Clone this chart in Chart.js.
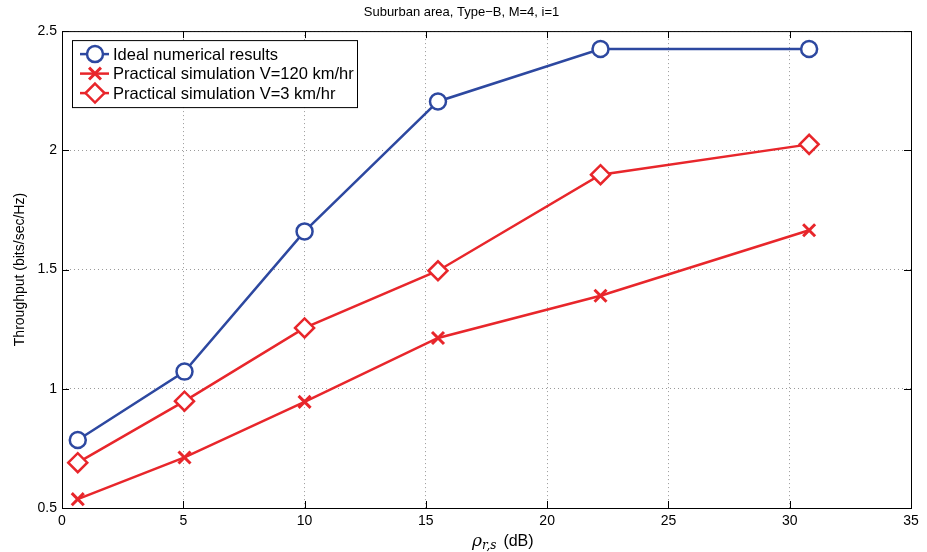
<!DOCTYPE html>
<html>
<head>
<meta charset="utf-8">
<script src="https://cdn.jsdelivr.net/npm/chart.js@4"></script>
<style>
  html, body { margin: 0; padding: 0; background: #fff; }
  #wrap { width: 927px; height: 552px; }
</style>
</head>
<body>
<div id="wrap"><canvas id="thr"></canvas></div>
<script>
const xSnr = [0.65, 5.05, 10, 15.5, 22.2, 30.8];
const idealVals = [0.785, 1.072, 1.66, 2.205, 2.425, 2.425];
const v120Vals = [0.537, 0.712, 0.945, 1.213, 1.39, 1.665];
const v3Vals = [0.69, 0.948, 1.255, 1.495, 1.898, 2.025];
const xTicks = [0, 5, 10, 15, 20, 25, 30, 35];
const yTicks = [0.5, 1, 1.5, 2, 2.5];

const FONT = '"Liberation Sans", Arial, sans-serif';

const pts = (ys) => xSnr.map((x, i) => ({ x: x, y: ys[i] }));

// box frame + inward ticks, MATLAB style
const framePlugin = {
  id: 'frame',
  afterDraw(chart) {
    const { ctx, chartArea: a, scales } = chart;
    ctx.save();
    ctx.strokeStyle = '#000';
    ctx.lineWidth = 1;
    ctx.strokeRect(a.left + 0.5, a.top + 0.5, a.right - a.left, a.bottom - a.top);
    ctx.beginPath();
    xTicks.forEach(v => {
      const px = Math.round(scales.x.getPixelForValue(v)) + 0.5;
      ctx.moveTo(px, a.bottom); ctx.lineTo(px, a.bottom - 7);
      ctx.moveTo(px, a.top); ctx.lineTo(px, a.top + 7);
    });
    yTicks.forEach(v => {
      const py = Math.round(scales.y.getPixelForValue(v)) + 0.5;
      ctx.moveTo(a.left, py); ctx.lineTo(a.left + 7, py);
      ctx.moveTo(a.right, py); ctx.lineTo(a.right - 7, py);
    });
    ctx.stroke();

    // x axis label with subscript
    const y0 = a.bottom + 38;
    ctx.fillStyle = '#000';
    ctx.textBaseline = 'alphabetic';
    let x = 472;
    ctx.font = 'italic 17px "DejaVu Serif", serif';
    ctx.fillText('ρ', x, y0); x += ctx.measureText('ρ').width;
    ctx.font = 'italic 12px "DejaVu Serif", serif';
    ctx.fillText('r,s', x, y0 + 3); x += ctx.measureText('r,s').width + 7;
    ctx.font = '16px ' + FONT;
    ctx.fillText('(dB)', x, y0);

    // legend
    const lx = a.left + 10, ly = a.top + 9, lw = 285, lh = 67;
    ctx.fillStyle = '#fff';
    ctx.fillRect(lx, ly, lw, lh);
    ctx.strokeStyle = '#000';
    ctx.lineWidth = 1;
    ctx.strokeRect(lx + 0.5, ly + 0.5, lw, lh);
    chart.data.datasets.forEach((ds, i) => {
      const yy = ly + 14 + i * 19.5;
      ctx.strokeStyle = ds.borderColor;
      ctx.lineWidth = 2.5;
      ctx.beginPath();
      ctx.moveTo(lx + 8, yy); ctx.lineTo(lx + 37, yy);
      ctx.stroke();
      drawMarker(ctx, ds.pointStyle, lx + 23, yy, ds.pointRadius, ds.borderColor);
      ctx.fillStyle = '#000';
      ctx.font = '16.5px ' + FONT;
      ctx.textBaseline = 'middle';
      ctx.fillText(ds.label, lx + 41, yy + 1);
    });
    ctx.restore();
  }
};

function drawMarker(ctx, style, x, y, r, color) {
  ctx.save();
  ctx.strokeStyle = color;
  ctx.lineWidth = 2.5;
  ctx.fillStyle = '#fff';
  ctx.beginPath();
  if (style === 'circle') {
    ctx.arc(x, y, r, 0, Math.PI * 2);
    ctx.fill();
  } else if (style === 'rectRot') {
    ctx.moveTo(x, y - r); ctx.lineTo(x + r, y); ctx.lineTo(x, y + r); ctx.lineTo(x - r, y); ctx.closePath();
    ctx.fill();
  } else {
    const d = r * 0.7;
    ctx.lineWidth = 3;
    ctx.moveTo(x - d, y - d); ctx.lineTo(x + d, y + d);
    ctx.moveTo(x + d, y - d); ctx.lineTo(x - d, y + d);
  }
  ctx.stroke();
  ctx.restore();
}

new Chart(document.getElementById('thr'), {
  type: 'scatter',
  data: {
    datasets: [
      {
        label: 'Ideal numerical results',
        data: pts(idealVals),
        showLine: true,
        borderColor: '#2d48a0',
        backgroundColor: '#ffffff',
        borderWidth: 2.5,
        pointStyle: 'circle',
        pointRadius: 8,
        pointBorderWidth: 2.5
      },
      {
        label: 'Practical simulation V=120 km/hr',
        data: pts(v120Vals),
        showLine: true,
        borderColor: '#e8262b',
        backgroundColor: '#e8262b',
        borderWidth: 2.5,
        pointStyle: 'cross',
        pointRotation: 45,
        pointRadius: 8.5,
        pointBorderWidth: 3
      },
      {
        label: 'Practical simulation V=3 km/hr',
        data: pts(v3Vals),
        showLine: true,
        borderColor: '#e8262b',
        backgroundColor: '#ffffff',
        borderWidth: 2.5,
        pointStyle: 'rectRot',
        pointRadius: 9.5,
        pointBorderWidth: 2.5
      }
    ]
  },
  options: {
    responsive: true,
    maintainAspectRatio: false,
    animation: false,
    layout: { padding: { top: 0, right: 16, bottom: 0, left: 12 } },
    plugins: {
      legend: { display: false },
      tooltip: { enabled: false },
      title: {
        display: true,
        text: 'Suburban area, Type\u2212B, M=4, i=1',
        color: '#000',
        font: { family: FONT, size: 13, weight: 'normal' },
        padding: { top: 5, bottom: 10.5 }
      }
    },
    scales: {
      x: {
        type: 'linear',
        min: 0, max: 35,
        afterBuildTicks: (s) => { s.ticks = xTicks.map(v => ({ value: v })); },
        afterFit: (s) => { s.height = 44; },
        grid: { color: '#9a9a9a', drawTicks: false },
        border: { display: false, dash: [1, 3] },
        ticks: { color: '#000', font: { family: FONT, size: 14 }, padding: 5 }
      },
      y: {
        type: 'linear',
        min: 0.5, max: 2.5,
        afterBuildTicks: (s) => { s.ticks = yTicks.map(v => ({ value: v })); },
        afterFit: (s) => { s.width = 50; },
        grid: { color: '#9a9a9a', drawTicks: false },
        border: { display: false, dash: [1, 3] },
        ticks: {
          color: '#000',
          font: { family: FONT, size: 14 },
          padding: 5,
          callback: (v) => String(v)
        },
        title: {
          display: true,
          text: 'Throughput (bits/sec/Hz)',
          color: '#000',
          font: { family: FONT, size: 14 },
          padding: { top: 0, bottom: 2 }
        }
      }
    }
  },
  plugins: [framePlugin]
});
</script>
</body>
</html>
